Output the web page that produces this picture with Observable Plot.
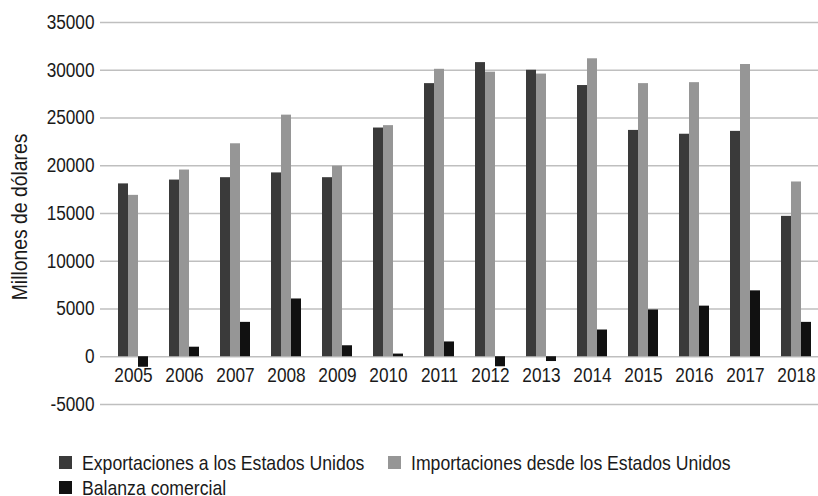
<!DOCTYPE html>
<html>
<head>
<meta charset="utf-8">
<script src="https://cdn.jsdelivr.net/npm/d3@7"></script>
<script src="https://cdn.jsdelivr.net/npm/@observablehq/plot@0.6"></script>
<style>
  html, body { margin: 0; padding: 0; background: #fff; overflow: hidden; width: 818px; height: 496px; }
  #chart svg { display: block; }
  .legend { font-family: 'Liberation Sans', Arial, sans-serif; font-size: 21px; color: #1a1a1a; margin-top: 30px; }
  .row { display: flex; height: 25px; line-height: 25px; align-items: center; padding-left: 59px; }
  .item { display: flex; align-items: center; margin-right: 24px; }
  .sw { width: 13px; height: 13px; margin-right: 10px; flex: none; }
  .lbl { display: inline-block; overflow: visible; white-space: nowrap; }
  .lbl span { display: inline-block; transform-origin: left center; white-space: nowrap; }
</style>
</head>
<body>
<div id="chart"></div>
<div class="legend" id="legend"></div>
<script>
const years = [2005, 2006, 2007, 2008, 2009, 2010, 2011, 2012, 2013, 2014, 2015, 2016, 2017, 2018];
const exportaciones = [18100, 18500, 18750, 19250, 18750, 23950, 28600, 30800, 30000, 28400, 23700, 23300, 23600, 14700];
const importaciones = [16900, 19550, 22300, 25300, 19950, 24200, 30100, 29800, 29600, 31200, 28600, 28700, 30600, 18300];
const balanza = [-1100, 1000, 3600, 6050, 1150, 280, 1550, -1050, -500, 2800, 4900, 5300, 6900, 3600];
const seriesNames = ["Exportaciones a los Estados Unidos", "Importaciones desde los Estados Unidos", "Balanza comercial"];
const seriesColors = ["#3a3a3a", "#969696", "#111111"];
const yTicks = [-5000, 0, 5000, 10000, 15000, 20000, 25000, 30000, 35000];
const yTitle = "Millones de dólares";

const rows = years.map((y, i) => ({year: y, exp: exportaciones[i], imp: importaciones[i], bal: balanza[i]}));

const FONT = "'Liberation Sans', Arial, sans-serif";

const chart = Plot.plot({
  width: 818,
  height: 420,
  marginLeft: 100,
  marginRight: 0,
  marginTop: 22,
  marginBottom: 16,
  style: {fontFamily: FONT, color: "#1a1a1a", background: "#fff"},
  x: {type: "band", domain: years, range: [101, 827.6], paddingInner: 0.807, paddingOuter: 0.4035, axis: null},
  y: {domain: [-5000, 35000], axis: null},
  marks: [
    Plot.gridY(yTicks, {stroke: "#bfbfbf", strokeOpacity: 1, strokeWidth: 1.4}),
    Plot.axisY(yTicks, {tickSize: 0, tickPadding: 6, fontSize: 20, tickFormat: d => String(d), label: null}),
    Plot.barY(rows, {x: "year", y: "exp", fill: seriesColors[0], dx: -10}),
    Plot.barY(rows, {x: "year", y: "imp", fill: seriesColors[1], dx: 0}),
    Plot.barY(rows, {x: "year", y: "bal", fill: seriesColors[2], dx: 10}),
    Plot.text(years, {x: d => d, y: 0, dy: 19, text: d => String(d), fontSize: 21, fill: "#1a1a1a"}),
    Plot.text([yTitle], {frameAnchor: "left", textAnchor: "middle", rotate: -90, dx: -80.5, dy: 3.4, fontSize: 22, fill: "#1a1a1a"})
  ]
});
document.getElementById("chart").appendChild(chart);

// emulate a narrow (condensed) face by compressing glyphs horizontally
chart.querySelectorAll("text").forEach(t => {
  const len = t.getComputedTextLength();
  if (!len) return;
  const s = t.textContent;
  let f = 0.82;
  if (s === yTitle) f = 0.88;
  else if (yTicks.map(String).includes(s)) f = 0.86;
  t.setAttribute("textLength", (len * f).toFixed(2));
  t.setAttribute("lengthAdjust", "spacingAndGlyphs");
});

const legend = document.getElementById("legend");
const groups = [[0, 1], [2]];
const LEG = 0.84;
for (const g of groups) {
  const row = document.createElement("div");
  row.className = "row";
  for (const i of g) {
    const it = document.createElement("div");
    it.className = "item";
    const sw = document.createElement("span");
    sw.className = "sw";
    sw.style.background = seriesColors[i];
    const box = document.createElement("span");
    box.className = "lbl";
    const tx = document.createElement("span");
    tx.textContent = seriesNames[i];
    box.appendChild(tx);
    it.appendChild(sw);
    it.appendChild(box);
    row.appendChild(it);
  }
  legend.appendChild(row);
}
legend.querySelectorAll(".lbl").forEach(box => {
  const inner = box.firstChild;
  const w = inner.getBoundingClientRect().width;
  inner.style.transform = `scaleX(${LEG})`;
  box.style.width = (w * LEG).toFixed(2) + "px";
});
</script>
</body>
</html>
